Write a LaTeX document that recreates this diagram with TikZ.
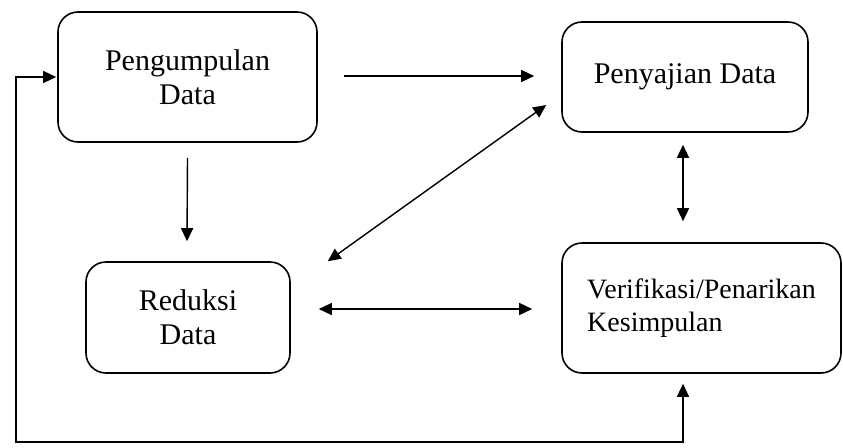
\documentclass[tikz,border=0pt]{standalone}
\usepackage{fontspec}
\setmainfont{Liberation Serif}
\usetikzlibrary{arrows.meta,calc}
\begin{document}
\begin{tikzpicture}[x=1pt,y=-1pt,
  box/.style={draw, rounded corners=20pt, line width=1.6pt, inner sep=0pt,
    font=\fontsize{30}{34}\selectfont, align=center},
  tip/.tip={Triangle[length=13pt,width=12pt]},
  conn/.style={line width=1.4pt, -tip},
  dconn/.style={line width=1.4pt, tip-tip}]
\useasboundingbox (0,0) rectangle (843,447);
\node[box, minimum width=259pt, minimum height=130pt] (P) at (187.5,77) {Pengumpulan\\Data};
\node[box, minimum width=246pt, minimum height=110pt] (S) at (685,77) {Penyajian Data};
\node[box, minimum width=204pt, minimum height=111pt] (R) at (188,317.5) {Reduksi\\Data};
\node[box, minimum width=279pt, minimum height=130pt, align=left,
  font=\fontsize{28}{33}\selectfont] (V) at (701.5,308) {Verifikasi/Penarikan\\Kesimpulan};
\coordinate (loopR) at (683,442);
\coordinate (loopL) at (16,442);
\draw[conn] ($(P.east)+(26,-1)$) -- ($(S.west)+(-27,-1)$);
\draw[conn] ($(P.south)+(0,15)$) -- ($(R.north)+(-1,-20)$);
\draw[dconn] ($(S.west)+(-15,28)$) -- ($(R.north east)+(37,0)$);
\draw[dconn] ($(S.south)+(-2,12)$) -- ($(V.north)+(-18.5,-21)$);
\draw[dconn] ($(R.east)+(28,-8.5)$) -- ($(V.west)+(-29,1)$);
\draw[dconn] ($(V.south)+(-18.5,10)$) -- (loopR) -- (loopL) |- ($(P.west)+(-1,0)$);
\end{tikzpicture}
\end{document}
